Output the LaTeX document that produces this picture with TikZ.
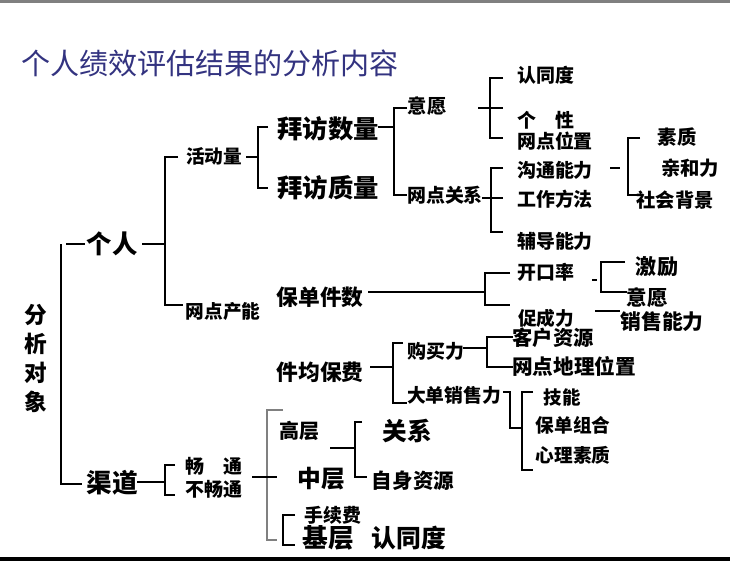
\documentclass[tikz,border=0pt]{standalone}
\usepackage{fontspec}
\setmainfont{Noto Sans CJK SC}
\newcommand\fsz[1]{\fontsize{#1pt}{#1pt}\selectfont}
\definecolor{titleblue}{RGB}{51,51,128}
\tikzset{
  lbl/.style={inner sep=0pt, font={\bfseries\fsz{#1}}},
  lbl/.default=14.2,
  ln/.style={line width=0.9pt, black},
}
\begin{document}
\begin{tikzpicture}[x=0.75pt,y=-0.75pt]
\useasboundingbox (0,0) rectangle (730,561);
\fill[white] (0,0) rectangle (730,561);
\fill[gray] (0,0) rectangle (730,2.5);
\fill[black] (0,557) rectangle (730,561);

% title
\node[inner sep=0pt, font=\fsz{21.8}, text=titleblue] (title) at (210,63) {个人绩效评估结果的分析内容};

% root
\node[lbl=17, align=center, font={\bfseries\fontsize{17pt}{21.8pt}\selectfont}] (root) at (36,358.5) {分\\析\\对\\象};

% level 1
\node[lbl=19] (geren) at (112,244) {个人};
\node[lbl=19.3] (qudao) at (112,483) {渠道};

% level 2
\node[lbl=14] (hdl) at (214,156) {活动量};
\node[lbl=14] (wdcn) at (223,311) {网点产能};

% level 3
\node[lbl=19] (bfsl) at (328,129) {拜访数量};
\node[lbl=19] (bfzl) at (328,188) {拜访质量};
\node[lbl=16.3] (bdjs) at (320,297) {保单件数};
\node[lbl=16.3] (jjbf) at (320,372) {件均保费};

% level 4
\node[lbl=14.5] (yiyuan) at (427,106) {意愿};
\node[lbl=14.2] (wdgx) at (445,195) {网点关系};
\node[lbl=14.2] (gml) at (436,351) {购买力};
\node[lbl=14.1] (ddxsl) at (454,395) {大单销售力};

% level 5
\node[lbl] (rtd) at (546,75) {认同度};
\node[lbl] (gx) at (546,120) {个　性};
\node[lbl] (wdwz) at (555,141) {网点位置};
\node[lbl] (gtnl) at (555,170) {沟通能力};
\node[lbl] (gzff) at (555,199) {工作方法};
\node[lbl] (fdnl) at (555,241) {辅导能力};
\node[lbl] (kkl) at (546,272) {开口率};
\node[lbl=14] (ccl) at (546,318.5) {促成力};
\node[lbl=15.2] (khzy) at (553,337.5) {客户资源};
\node[lbl=15.5] (wddl) at (574,366) {网点地理位置};
\node[lbl=13.8] (jn) at (562,397) {技能};
\node[lbl=14] (bdzh) at (573,425) {保单组合};
\node[lbl=14] (xlsz) at (573,455) {心理素质};

% level 6
\node[lbl=14.5] (sz) at (677,137) {素质};
\node[lbl=14.5] (qhl) at (690,168) {亲和力};
\node[lbl=14.5] (shbj) at (675,200) {社会背景};
\node[lbl=15.8] (jl) at (657,267) {激励};
\node[lbl=15.4] (yiyuan2) at (647,298) {意愿};
\node[lbl=15.6] (xsnl) at (662,322) {销售能力};

% channel branch
\node[lbl=14.2] (ct) at (214,466) {畅　通};
\node[lbl=14.2] (bct) at (214,489) {不畅通};
\node[lbl=15] (gc) at (299,431) {高层};
\node[lbl=17.8] (zc) at (321,479) {中层};
\node[lbl=14.2] (sxf) at (333,515) {手续费};
\node[lbl=19.3] (jc) at (328,538) {基层};
\node[lbl=18.6] (rtd2) at (409,538) {认同度};
\node[lbl=18.5] (guanxi) at (407,431) {关系};
\node[lbl=15.4] (zszy) at (413,481) {自身资源};

% connectors
\draw[ln] (61,244) -- (61,484) -- (82,484);
\draw[ln] (66,244) -- (85,244);
\draw[ln] (142,244) -- (165,244);
\draw[ln] (178,157) -| (165,305) -- (183,305);
\draw[ln] (246,157) -- (258,157);
\draw[ln] (268,127) -| (258,188) -- (268,188);
\draw[ln] (378,127) -- (394,127);
\draw[ln] (407,108) -| (394,195) -- (407,195);
\draw[ln] (478,108) -- (503,108);
\draw[ln] (503,78) -| (490,138) -- (503,138);
\draw[ln] (482,198) -- (503,198);
\draw[ln] (503,168) -| (491,232) -- (503,232);
\draw[ln] (610,168) -- (620,168);
\draw[ln] (640,138) -| (628,195) -- (637,195);

\draw[ln] (368,292) -- (485,292);
\draw[ln] (510,273) -| (485,305) -- (510,305);
\draw[ln] (592,280) -- (597,280);
\draw[ln] (625,262) -| (601,292) -- (627,292);
\draw[ln] (595,311) -- (620,311);

\draw[ln] (370,367) -- (393,367);
\draw[ln] (403,343) -| (393,403) -- (407,403);
\draw[ln] (463,348) -- (487,348);
\draw[ln] (513,337) -| (487,367) -- (513,367);
\draw[ln] (503,392) -- (510,392) -- (510,428) -- (522,428);
\draw[ln] (533,392) -| (522,470) -- (533,470);

\draw[ln] (137,482) -- (165,482);
\draw[ln] (175,465) -| (165,495) -- (175,495);
\draw[line width=0.9pt, gray] (283,410) -| (267,540) -- (277,540);
\draw[ln] (252,477) -- (277,477);
\draw[ln] (330,448) -- (355,448);
\draw[ln] (362,422) -| (355,477) -- (367,477);
\draw[ln] (295,515) -| (283,545) -- (295,545);
\end{tikzpicture}
\end{document}
